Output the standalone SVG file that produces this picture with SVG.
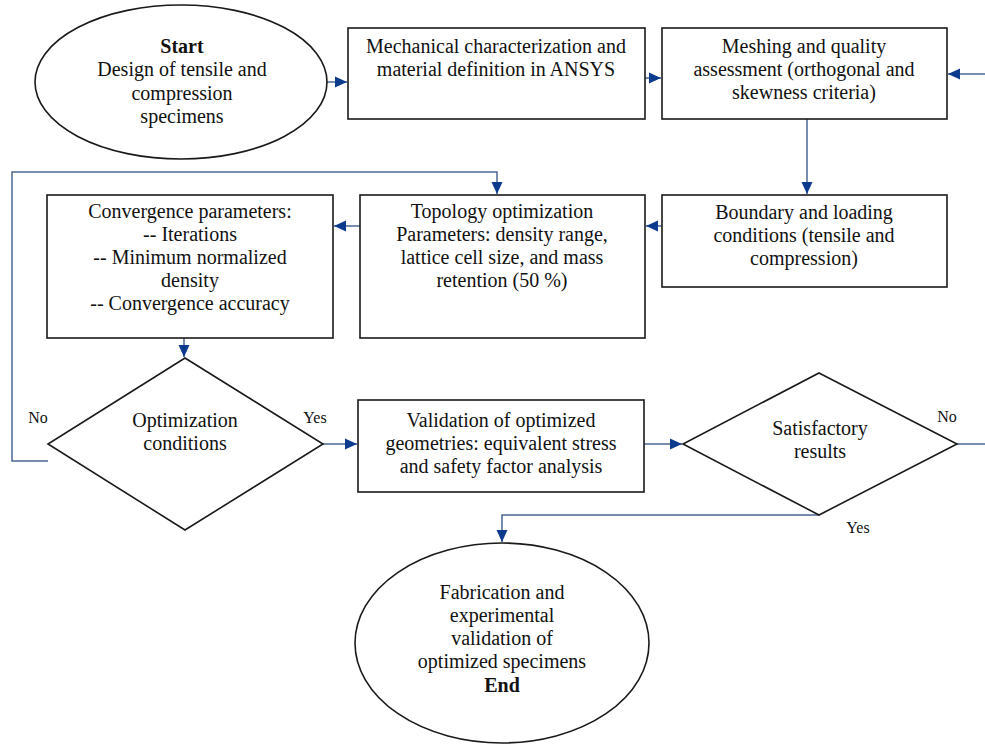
<svg xmlns="http://www.w3.org/2000/svg" width="985" height="744" viewBox="0 0 985 744">
<style>
.shape{fill:#ffffff;stroke:#1a1a1a;stroke-width:1.6}
.t{font-family:"Liberation Serif","Times New Roman",serif;font-size:20px;fill:#111;text-anchor:middle}
.b{font-weight:bold}
.lbl{font-family:"Liberation Serif","Times New Roman",serif;font-size:16px;fill:#111;text-anchor:middle}
.c{fill:none;stroke:#4a6694;stroke-width:1.5}
</style>
<defs>
<marker id="arr" markerUnits="userSpaceOnUse" markerWidth="13" markerHeight="12" refX="12" refY="6" orient="auto">
<path d="M0,0.5 L12,6 L0,11.5 z" fill="#0c3a8c"/>
</marker>
</defs>
<rect width="985" height="744" fill="#ffffff"/>

<g id="connectors">
<path class="c" d="M327,82 H347" marker-end="url(#arr)"/>
<path class="c" d="M645,78 H661" marker-end="url(#arr)"/>
<path class="c" d="M985,74 H948" marker-end="url(#arr)"/>
<path class="c" d="M807,119 V194" marker-end="url(#arr)"/>
<path class="c" d="M662,226 H646" marker-end="url(#arr)"/>
<path class="c" d="M360,226 H334" marker-end="url(#arr)"/>
<path class="c" d="M184,338 V357" marker-end="url(#arr)"/>
<path class="c" d="M48,461 H12 V172 H497 V194" marker-end="url(#arr)"/>
<path class="c" d="M323,444 H357" marker-end="url(#arr)"/>
<path class="c" d="M644,444 H682" marker-end="url(#arr)"/>
<path class="c" d="M957,444 H985"/>
<path class="c" d="M819,515 H502 V542" marker-end="url(#arr)"/>
<text class="lbl" x="38" y="423">No</text>
<text class="lbl" x="315" y="423">Yes</text>
<text class="lbl" x="947" y="422">No</text>
<text class="lbl" x="858" y="533">Yes</text>
</g>

<g id="start">
<ellipse class="shape" cx="181" cy="82" rx="146" ry="77"/>
<text class="t b" x="182" y="53">Start</text>
<text class="t" x="182" y="76">Design of tensile and</text>
<text class="t" x="182" y="100">compression</text>
<text class="t" x="182" y="123">specimens</text>
</g>

<g id="mechanical">
<rect class="shape" x="348" y="28" width="297" height="91"/>
<text class="t" x="496" y="53">Mechanical characterization and</text>
<text class="t" x="496" y="76">material definition in ANSYS</text>
</g>

<g id="meshing">
<rect class="shape" x="662" y="28" width="285" height="91"/>
<text class="t" x="804" y="53">Meshing and quality</text>
<text class="t" x="804" y="76">assessment (orthogonal and</text>
<text class="t" x="804" y="99">skewness criteria)</text>
</g>

<g id="boundary">
<rect class="shape" x="662" y="195" width="285" height="92"/>
<text class="t" x="804" y="219">Boundary and loading</text>
<text class="t" x="804" y="242">conditions (tensile and</text>
<text class="t" x="804" y="265">compression)</text>
</g>

<g id="topology">
<rect class="shape" x="360" y="195" width="285" height="143"/>
<text class="t" x="502" y="218">Topology optimization</text>
<text class="t" x="502" y="241">Parameters: density range,</text>
<text class="t" x="502" y="264">lattice cell size, and mass</text>
<text class="t" x="502" y="287">retention (50 %)</text>
</g>

<g id="convergence">
<rect class="shape" x="47" y="195" width="286" height="143"/>
<text class="t" x="190" y="218">Convergence parameters:</text>
<text class="t" x="190" y="241">-- Iterations</text>
<text class="t" x="190" y="264">-- Minimum normalized</text>
<text class="t" x="190" y="287">density</text>
<text class="t" x="190" y="310">-- Convergence accuracy</text>
</g>

<g id="optimization">
<polygon class="shape" points="185,358 323,444 185,530 48,444"/>
<text class="t" x="185" y="427">Optimization</text>
<text class="t" x="185" y="450">conditions</text>
</g>

<g id="validation">
<rect class="shape" x="358" y="400" width="286" height="92"/>
<text class="t" x="501" y="427">Validation of optimized</text>
<text class="t" x="501" y="450">geometries: equivalent stress</text>
<text class="t" x="501" y="473">and safety factor analysis</text>
</g>

<g id="satisfactory">
<polygon class="shape" points="819,373 957,444 819,515 683,444"/>
<text class="t" x="820" y="435">Satisfactory</text>
<text class="t" x="820" y="458">results</text>
</g>

<g id="end">
<ellipse class="shape" cx="502" cy="643" rx="147" ry="100"/>
<text class="t" x="502" y="599">Fabrication and</text>
<text class="t" x="502" y="622">experimental</text>
<text class="t" x="502" y="645">validation of</text>
<text class="t" x="502" y="668">optimized specimens</text>
<text class="t b" x="502" y="692">End</text>
</g>
</svg>
